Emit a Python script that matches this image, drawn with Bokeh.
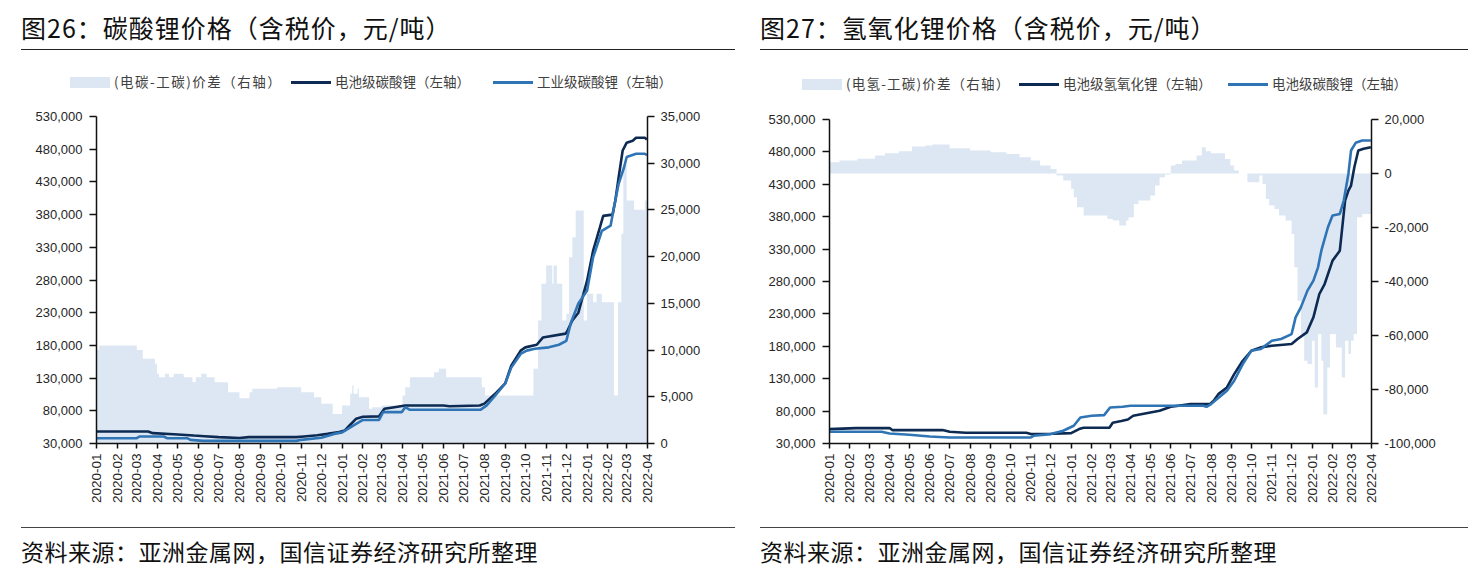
import math
import pandas as pd
from bokeh.plotting import figure
from bokeh.models import (Range1d, LinearAxis, FixedTicker, NumeralTickFormatter,
                          DatetimeTickFormatter, Div, ColumnDataSource)
from bokeh.layouts import row, column
from bokeh.embed import file_html
from bokeh.resources import INLINE

# ---------------- data: 图26 碳酸锂 ----------------
c_batt_dates = ["2020-01-01", "2020-03-18", "2020-03-25", "2020-04-25", "2020-05-25", "2020-06-10",
                "2020-07-01", "2020-08-01", "2020-08-15", "2020-10-25", "2020-11-05", "2020-11-25",
                "2020-12-10", "2020-12-25", "2021-01-05", "2021-01-12", "2021-01-22", "2021-02-01",
                "2021-02-25", "2021-03-05", "2021-03-20", "2021-04-05", "2021-06-01", "2021-06-10",
                "2021-07-25", "2021-08-01", "2021-08-17", "2021-09-01", "2021-09-10", "2021-09-24",
                "2021-10-01", "2021-10-18", "2021-10-27", "2021-11-30", "2021-12-03", "2021-12-10",
                "2021-12-19", "2022-01-01", "2022-01-10", "2022-01-20", "2022-01-25", "2022-02-08",
                "2022-02-12", "2022-02-17", "2022-02-23", "2022-03-01", "2022-03-10", "2022-03-15",
                "2022-03-28", "2022-03-31"]
c_batt = [48300, 48300, 45800, 44200, 42200, 41200,
          39700, 38500, 39700, 39700, 40800, 42500,
          44700, 47000, 50000, 57500, 68000, 71000,
          71500, 83000, 85500, 88000, 88000, 87000,
          88000, 91000, 106000, 122000, 149000, 172000,
          177000, 181000, 192000, 198000, 203000, 218000,
          230000, 279000, 325000, 360000, 378000, 380000,
          401000, 437000, 478000, 490000, 493000, 497500,
          497500, 495000]

c_ind_dates = ["2020-01-01", "2020-03-01", "2020-03-05", "2020-04-10", "2020-04-15", "2020-05-15",
               "2020-05-20", "2020-06-08", "2020-10-25", "2020-11-01", "2020-12-01", "2020-12-20",
               "2021-01-01", "2021-01-20", "2021-02-01", "2021-02-25", "2021-03-03", "2021-03-31",
               "2021-04-05", "2021-04-12", "2021-07-26", "2021-08-04", "2021-08-17", "2021-09-01",
               "2021-09-10", "2021-09-24", "2021-10-03", "2021-10-15", "2021-11-05", "2021-11-20",
               "2021-12-01", "2021-12-08", "2021-12-19", "2022-01-01", "2022-01-10", "2022-01-15",
               "2022-01-23", "2022-02-05", "2022-02-10", "2022-02-17", "2022-02-25", "2022-03-01",
               "2022-03-15", "2022-03-28", "2022-03-31"]
c_ind = [38100, 38100, 40700, 40700, 38100, 38100,
         35600, 34000, 34000, 35600, 38700, 44700,
         47000, 59000, 66000, 66000, 78000, 78000,
         85500, 81500, 81500, 88000, 103000, 121700,
         146000, 167000, 172000, 175000, 177000, 181000,
         187000, 215000, 244000, 264000, 315000, 330000,
         355000, 363000, 391000, 427000, 452000, 468000,
         473000, 473000, 471000]

c_spread_dates = ["2020-01-01", "2020-01-05", "2020-03-01", "2020-03-10", "2020-03-28", "2020-03-31",
                  "2020-04-03", "2020-04-12", "2020-04-18", "2020-04-25", "2020-05-10", "2020-05-23",
                  "2020-05-28", "2020-06-05", "2020-06-13", "2020-06-25", "2020-07-15", "2020-08-01",
                  "2020-08-16", "2020-08-20", "2020-09-26", "2020-11-01", "2020-11-20", "2020-12-01",
                  "2020-12-18", "2021-01-01", "2021-01-13", "2021-01-16", "2021-01-18", "2021-01-24",
                  "2021-01-26", "2021-02-10", "2021-02-15", "2021-03-01", "2021-04-01", "2021-04-05",
                  "2021-04-12", "2021-05-18", "2021-05-25", "2021-06-05", "2021-07-28", "2021-08-02",
                  "2021-10-13", "2021-10-20", "2021-10-25", "2021-11-01", "2021-11-10", "2021-11-12",
                  "2021-11-17", "2021-11-25", "2021-12-01", "2021-12-05", "2021-12-10", "2021-12-15",
                  "2021-12-27", "2022-01-01", "2022-01-10", "2022-01-15", "2022-01-23", "2022-02-10",
                  "2022-02-16", "2022-02-21", "2022-02-24", "2022-03-01", "2022-03-12", "2022-03-28",
                  "2022-03-31"]
c_spread = [10000, 10500, 10000, 9070, 8530, 7460,
            7100, 7460, 7100, 7460, 7100, 6560,
            7100, 7460, 7100, 6560, 5490, 4850,
            5490, 5850, 6030, 5490, 4960, 4250,
            3170, 4070, 5320, 6200, 5320, 5850,
            4960, 3710, 3890, 4070, 5140, 6030,
            7100, 7630, 8000, 7100, 6030, 5140,
            8000, 13160, 17090, 19050, 17090, 19050,
            17090, 13160, 13880, 19940, 22080, 24940,
            13160, 16020, 15120, 16020, 15120, 5140,
            15120, 22440, 29930, 26000, 25010, 26000,
            26000]

# ---------------- data: 图27 氢氧化锂 ----------------
h_lioh_dates = ["2020-01-01", "2020-02-10", "2020-04-01", "2020-04-05", "2020-06-20", "2020-06-25",
                "2020-07-01", "2020-07-25", "2020-10-25", "2020-11-01", "2020-12-05", "2021-01-01",
                "2021-01-13", "2021-01-20", "2021-02-28", "2021-03-05", "2021-03-18", "2021-03-28",
                "2021-04-05", "2021-05-01", "2021-05-15", "2021-06-01", "2021-07-01", "2021-07-30",
                "2021-08-05", "2021-08-12", "2021-08-25", "2021-09-05", "2021-09-18", "2021-10-01",
                "2021-10-15", "2021-11-01", "2021-12-01", "2021-12-10", "2021-12-24", "2022-01-03",
                "2022-01-12", "2022-01-20", "2022-02-01", "2022-02-12", "2022-02-20", "2022-02-25",
                "2022-03-01", "2022-03-06", "2022-03-12", "2022-03-20", "2022-03-31"]
h_lioh = [52240, 53800, 53800, 50700, 50700, 49600,
          48070, 46530, 46530, 44520, 45000, 46000,
          52240, 54250, 54250, 62000, 64580, 67000,
          72740, 77890, 80470, 86650, 90770, 90770,
          95900, 106200, 116500, 137100, 157700, 173150,
          178300, 180900, 183500, 191200, 201500, 224700,
          260700, 276100, 312200, 327600, 404800, 420300,
          428000, 456300, 482100, 484700, 487300]

h_carb_dates = ["2020-01-01", "2020-03-20", "2020-04-01", "2020-05-01", "2020-06-01", "2020-07-01",
                "2020-11-01", "2020-11-05", "2020-12-01", "2020-12-20", "2021-01-05", "2021-01-15",
                "2021-02-01", "2021-02-20", "2021-03-01", "2021-03-20", "2021-04-01", "2021-07-20",
                "2021-07-25", "2021-08-01", "2021-08-10", "2021-08-25", "2021-09-05", "2021-09-18",
                "2021-10-01", "2021-10-15", "2021-11-01", "2021-11-15", "2021-12-01", "2021-12-07",
                "2021-12-15", "2021-12-25", "2022-01-03", "2022-01-10", "2022-01-15", "2022-01-25",
                "2022-02-01", "2022-02-12", "2022-02-18", "2022-02-25", "2022-03-01", "2022-03-08",
                "2022-03-18", "2022-03-31"]
h_carb = [48070, 48070, 45500, 43440, 40870, 39300,
          39300, 41900, 44520, 49600, 57340, 70200,
          72800, 73800, 85600, 86600, 88200, 88200,
          86650, 90770, 98500, 111360, 126800, 152600,
          173150, 175700, 188600, 191200, 198900, 224700,
          240100, 265900, 281300, 301900, 327600, 363700,
          381700, 384300, 404900, 446000, 482100, 494000,
          497600, 497600]

h_spread_dates = ["2020-01-01", "2020-01-16", "2020-02-12", "2020-03-10", "2020-03-25", "2020-04-15",
                  "2020-05-05", "2020-05-25", "2020-06-05", "2020-07-01", "2020-08-01", "2020-09-01",
                  "2020-09-25", "2020-10-15", "2020-11-01", "2020-11-15", "2020-12-01", "2020-12-10",
                  "2020-12-20", "2021-01-01", "2021-01-05", "2021-01-10", "2021-01-20", "2021-02-25",
                  "2021-03-05", "2021-03-15", "2021-03-25", "2021-03-29", "2021-04-06", "2021-04-13",
                  "2021-05-01", "2021-05-08", "2021-05-15", "2021-05-23", "2021-06-01", "2021-06-08",
                  "2021-06-18", "2021-07-10", "2021-07-18", "2021-07-24", "2021-08-01", "2021-08-22",
                  "2021-08-30", "2021-09-05", "2021-09-12", "2021-09-25", "2021-10-13", "2021-10-18",
                  "2021-10-23", "2021-10-28", "2021-11-05", "2021-11-12", "2021-11-22", "2021-12-01",
                  "2021-12-05", "2021-12-10", "2021-12-15", "2021-12-20", "2021-12-25", "2022-01-01",
                  "2022-01-05", "2022-01-10", "2022-01-15", "2022-01-18", "2022-01-24", "2022-01-28",
                  "2022-02-06", "2022-02-15", "2022-02-20", "2022-02-25", "2022-03-01", "2022-03-05",
                  "2022-03-10", "2022-03-18", "2022-03-31"]
h_spread = [4170, 4800, 5430, 6660, 7500, 8260,
            10000, 10360, 10730, 9370, 8500, 7880,
            7250, 6020, 4800, 2950, 1710, -760,
            -2610, -5690, -8800, -12500, -15590, -16810,
            -17440, -19290, -17450, -16220, -11270, -10030,
            -8180, -4470, -1380, -390, 2940, 3560,
            4800, 6650, 9740, 8260, 7520, 5410,
            2940, 1090, 0, -3240, -770, -3860,
            -9420, -11890, -13130, -15600, -17450, -22400,
            -34750, -47100, -59470, -69350, -70600, -61950,
            -79250, -59470, -69350, -89140, -71830, -59470,
            -64420, -75550, -61950, -66890, -61950, -59470,
            -16220, -14980, -14980]

month_ticks = pd.date_range("2020-01-01", "2022-04-01", freq="MS")

AREA = "#DCE7F3"
DARK = "#0C2A52"
MID = "#2F74B5"
LINE_W = 2.6
TICK_FONT = "Liberation Sans"
CJK = "Noto Sans CJK SC"
LEG_H = 44


def step_after(dates, vals):
    d = list(pd.to_datetime(dates))
    xs, ys = [], []
    for i in range(len(d)):
        if i > 0:
            xs.append(d[i]); ys.append(vals[i - 1])
        xs.append(d[i]); ys.append(vals[i])
    return xs, ys


def style_axis(ax, tick_out=7):
    ax.axis_line_color = "#111111"
    ax.axis_line_width = 1.5
    ax.major_tick_line_color = "#111111"
    ax.major_tick_line_width = 1.5
    ax.major_tick_in = 0
    ax.major_tick_out = tick_out
    ax.minor_tick_in = 0
    ax.minor_tick_out = 0
    ax.major_label_text_font = TICK_FONT
    ax.major_label_text_font_size = "13px"
    ax.major_label_text_color = "#262626"


def make_chart(width, border_l, border_r, border_t, lines, spread, right_range, right_step):
    p = figure(width=width, height=472 - LEG_H, x_axis_type="datetime",
               x_range=Range1d(pd.Timestamp("2020-01-01"), pd.Timestamp("2022-04-01")),
               y_range=Range1d(30000, 530000),
               min_border_left=border_l, min_border_right=border_r,
               min_border_top=border_t - LEG_H, min_border_bottom=81,
               output_backend="svg", toolbar_location=None)
    p.margin = (0, 0, 0, 0)
    p.outline_line_color = None
    p.xgrid.visible = False
    p.ygrid.visible = False
    p.extra_y_ranges = {"right": Range1d(*right_range)}

    sx, sy = step_after(*spread)
    src_a = ColumnDataSource(dict(x=sx, y=sy, z=[0] * len(sy)))
    p.varea(x="x", y1="z", y2="y", source=src_a, fill_color=AREA, y_range_name="right")
    for (dts, vals), col in zip(lines, [DARK, MID]):
        src = ColumnDataSource(dict(x=pd.to_datetime(dts), y=vals))
        p.line("x", "y", source=src, line_color=col, line_width=LINE_W)

    xa = p.xaxis[0]
    style_axis(xa, tick_out=5)
    xa.ticker = FixedTicker(ticks=[t.value // 10**6 for t in month_ticks])
    fmt = "%Y-%m"
    xa.formatter = DatetimeTickFormatter(microseconds=fmt, milliseconds=fmt, seconds=fmt,
                                         minsec=fmt, minutes=fmt, hourmin=fmt, hours=fmt,
                                         days=fmt, months=fmt, years=fmt)
    xa.major_label_orientation = math.pi / 2
    xa.major_label_standoff = 5
    xa.major_label_text_font_size = "13.5px"

    ya = p.yaxis[0]
    style_axis(ya)
    ya.ticker = FixedTicker(ticks=list(range(30000, 530001, 50000)))
    ya.formatter = NumeralTickFormatter(format="0,0")
    ya.major_label_standoff = 7

    ra = LinearAxis(y_range_name="right")
    style_axis(ra)
    ra.ticker = FixedTicker(ticks=list(range(right_range[0], right_range[1] + 1, right_step)))
    ra.formatter = NumeralTickFormatter(format="0,0")
    ra.major_label_standoff = 6
    p.add_layout(ra, "right")
    return p


def legend_div(width, labels, left, top, label_w, gaps, first_ls):
    swatches = [
        f'<span style="display:inline-block;width:40px;height:11px;background:{AREA};"></span>',
        f'<span style="display:inline-block;width:40px;height:3px;background:{DARK};"></span>',
        f'<span style="display:inline-block;width:40px;height:3px;background:{MID};"></span>',
    ]
    parts = []
    for i, (sw, lab) in enumerate(zip(swatches, labels)):
        ml = 0 if i == 0 else gaps[i - 1]
        ls = f"letter-spacing:{first_ls}px;" if i == 0 else ""
        parts.append(f'<span style="display:flex;align-items:center;margin-left:{ml}px;">{sw}'
                     f'<span style="display:inline-block;margin-left:4px;width:{label_w[i]}px;'
                     f'{ls}">{lab}</span></span>')
    html = (f'<div style="display:flex;align-items:center;margin-left:{left}px;'
            f'margin-top:{top}px;height:16px;font-family:\'{CJK}\';font-size:13.5px;'
            f'color:#404040;white-space:nowrap;">' + "".join(parts) + '</div>')
    return Div(text=html, width=width, height=LEG_H, margin=(0, 0, 0, 0))


def title_div(text, width, left):
    html = (f'<div style="margin-left:{left}px;width:{width - left - 4}px;height:42px;'
            f'line-height:38px;border-bottom:1.5px solid #222;font-family:\'{CJK}\';'
            f'font-size:25px;letter-spacing:1px;color:#111;white-space:nowrap;">{text}</div>')
    return Div(text=html, width=width, height=44, margin=(0, 0, 0, 0))


def source_div(text, width, left):
    html = (f'<div style="margin-left:{left}px;margin-top:3px;width:{width - left - 4}px;'
            f'border-top:1.5px solid #444;padding-top:9px;line-height:28px;'
            f'font-family:\'{CJK}\';font-size:23px;letter-spacing:0.5px;color:#111;'
            f'white-space:nowrap;">{text}</div>')
    return Div(text=html, width=width, height=46, margin=(0, 0, 0, 0))


pL = make_chart(732, 89, 92, 64,
                [(c_batt_dates, c_batt), (c_ind_dates, c_ind)],
                (c_spread_dates, c_spread), (0, 35000), 5000)
pR = make_chart(733, 90, 101, 67,
                [(h_lioh_dates, h_lioh), (h_carb_dates, h_carb)],
                (h_spread_dates, h_spread), (-100000, 20000), 20000)
lL = legend_div(732, ["(电碳-工碳)价差（右轴）", "电池级碳酸锂（左轴）", "工业级碳酸锂（左轴）"],
                63, 22, [161, 139, 136], [16, 19], 1.5)
lR = legend_div(733, ["(电氢-工碳)价差（右轴）", "电池级氢氧化锂（左轴）", "电池级碳酸锂（左轴）"],
                63, 24, [156, 147, 133], [17, 18], 1.2)

src_text = "资料来源：亚洲金属网，国信证券经济研究所整理"
left_col = column(title_div("图26：碳酸锂价格（含税价，元/吨）", 732, 14), lL, pL,
                  source_div(src_text, 732, 14), spacing=0)
right_col = column(title_div("图27：氢氧化锂价格（含税价，元/吨）", 733, 21), lR, pR,
                   source_div(src_text, 733, 21), spacing=0)
layout = row(left_col, right_col, spacing=0, margin=(8, 0, 0, 7))

open("out.html", "w").write(file_html(layout, INLINE))
